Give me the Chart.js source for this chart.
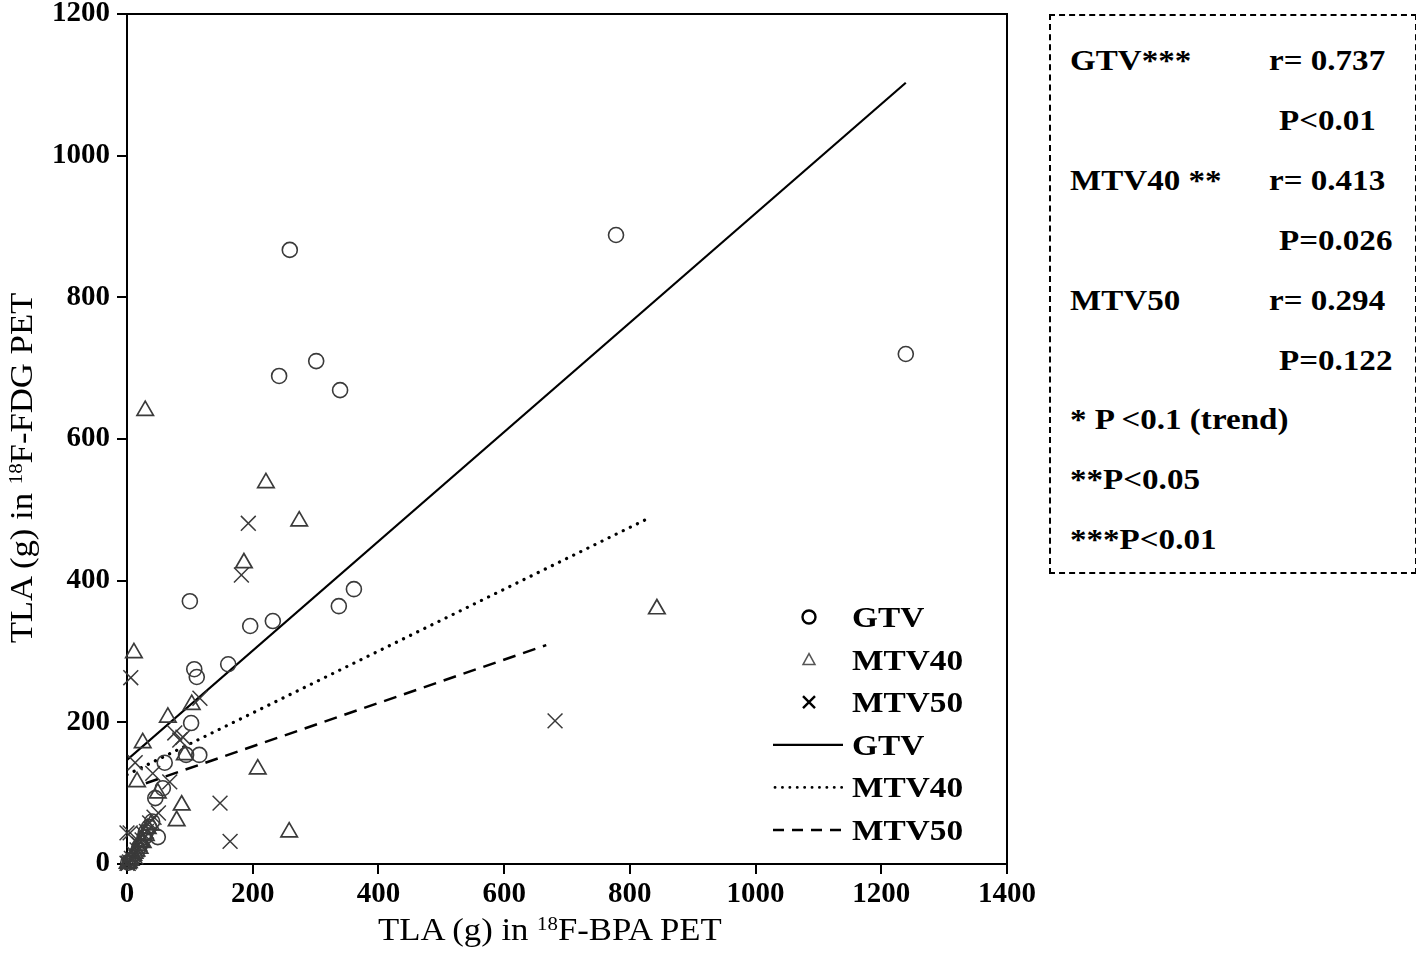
<!DOCTYPE html>
<html><head><meta charset="utf-8">
<script src="https://cdn.jsdelivr.net/npm/chart.js@4"></script>
<style>
body{margin:0;width:1416px;height:954px;background:#fff;position:relative;overflow:hidden;font-family:"Liberation Serif","Times New Roman",serif;color:#000}
#cv{position:absolute;left:0;top:0}
.t{position:absolute;white-space:nowrap;line-height:30px;height:30px;transform-origin:left center}
.xt{font-size:31px}
sup{font-size:0.6em;vertical-align:0;position:relative;top:-0.55em}
#stats{position:absolute;left:1049px;top:14px;width:364px;height:556px;border:2px dashed #000;box-sizing:content-box}
#stats .t{font-size:29px;font-weight:bold;transform:scaleX(1.14)}
.lg{font-size:29px;font-weight:bold;transform:scaleX(1.15)}
</style></head>
<body>
<canvas id="cv" width="1040" height="954"></canvas>
<div class="t xt" id="xtitle" style="left:378px;top:915px;transform:scaleX(1.12)">TLA (g) in <sup>18</sup>F-BPA PET</div>
<div class="t xt" id="ytitle" style="left:22px;top:468px;transform-origin:center;transform:translate(-50%,-50%) rotate(-90deg) scaleX(1.12)">TLA (g) in <sup>18</sup>F-FDG PET</div>

<svg style="position:absolute;left:0;top:0" width="1040" height="954" id="lgsvg"></svg>
<div id="legendText"></div>

<div id="stats"></div>

<script>
// ---- data ----
const xTicks = [0, 200, 400, 600, 800, 1000, 1200, 1400];
const yTicks = [0, 200, 400, 600, 800, 1000, 1200];
const seriesNames = ['GTV', 'MTV40', 'MTV50'];

const gtvX = [778, 1239, 259, 301, 242, 339, 361, 337, 100, 196, 232, 161, 107, 111, 102, 94, 115, 60, 57, 45, 49, 2, 5, 8, 20, 28, 35, 40, 30];
const gtvY = [888, 720, 867, 710, 689, 669, 388, 364, 371, 336, 343, 282, 275, 264, 199, 154, 154, 143, 107, 93, 38, 2, 4, 6, 25, 38, 52, 60, 45];

const mtv40X = [843, 29, 221, 274, 186, 11, 208, 258, 65, 25, 16, 87, 79, 92, 103, 49, 1, 3, 6, 10, 15, 18, 22, 25, 30, 33, 38, 12, 20];
const mtv40Y = [360, 640, 538, 484, 425, 298, 134, 45, 207, 171, 116, 83, 61, 154, 225, 100, 1, 2, 5, 12, 18, 26, 32, 30, 40, 50, 55, 15, 22];

const mtv50X = [681, 193, 182, 6, 148, 164, 116, 89, 41, 68, 5, 76, 13, 84, 0, 0, 2, 4, 7, 12, 16, 19, 24, 27, 31, 36, 43, 50, 14];
const mtv50Y = [202, 481, 408, 263, 86, 32, 234, 179, 128, 116, 44, 185, 143, 175, 44, 1, 1, 3, 8, 14, 20, 28, 34, 42, 46, 58, 66, 72, 10];

// regression lines: [x start, x end], [y start, y end]
const fitGtvX = [0, 1239],  fitGtvY = [147, 1103];
const fitM40X = [0, 834],   fitM40Y = [126, 490];
const fitM50X = [30, 667],  fitM50Y = [114, 309];

const statsLines = [
  ['GTV***', 'r= 0.737'],
  ['', 'P<0.01'],
  ['MTV40 **', 'r= 0.413'],
  ['', 'P=0.026'],
  ['MTV50', 'r= 0.294'],
  ['', 'P=0.122'],
  ['* P <0.1 (trend)', ''],
  ['**P<0.05', ''],
  ['***P<0.01', '']
];

// ---- build ----
const pts = (xs, ys) => xs.map((x, i) => ({x, y: ys[i]}));
const markColor = '#3a3a3a';

const frame = {
  id: 'frame',
  afterDraw(c) {
    const {ctx, chartArea: a} = c;
    ctx.save();
    ctx.strokeStyle = '#000'; ctx.lineWidth = 2;
    ctx.beginPath();
    ctx.moveTo(a.left, a.top); ctx.lineTo(a.right, a.top); ctx.lineTo(a.right, a.bottom);
    ctx.stroke();
    ctx.restore();
  }
};

const tickFont = {family: '"Liberation Serif", "Times New Roman", serif', size: 29, weight: 'bold'};

new Chart(document.getElementById('cv'), {
  type: 'scatter',
  data: {
    datasets: [
      {label: seriesNames[0], data: pts(gtvX, gtvY), pointStyle: 'circle', pointRadius: 7.5, borderColor: markColor, backgroundColor: 'rgba(0,0,0,0)', borderWidth: 1.6, clip: false},
      {label: seriesNames[1], data: pts(mtv40X, mtv40Y), pointStyle: 'triangle', pointRadius: 9.5, borderColor: markColor, backgroundColor: 'rgba(0,0,0,0)', borderWidth: 1.7, clip: false},
      {label: seriesNames[2], data: pts(mtv50X, mtv50Y), pointStyle: 'crossRot', pointRadius: 10.5, borderColor: markColor, backgroundColor: 'rgba(0,0,0,0)', borderWidth: 1.5, clip: false},
      {type: 'line', label: seriesNames[0] + ' fit', data: pts(fitGtvX, fitGtvY), borderColor: '#000', borderWidth: 2.2, pointRadius: 0, fill: false},
      {type: 'line', label: seriesNames[1] + ' fit', data: pts(fitM40X, fitM40Y), borderColor: '#000', borderWidth: 3.2, borderDash: [0.1, 7.8], borderCapStyle: 'round', pointRadius: 0, fill: false},
      {type: 'line', label: seriesNames[2] + ' fit', data: pts(fitM50X, fitM50Y), borderColor: '#000', borderWidth: 2.5, borderDash: [13, 8], pointRadius: 0, fill: false}
    ]
  },
  options: {
    responsive: false,
    animation: false,
    devicePixelRatio: 1,
    layout: {padding: {top: 14, right: 33, left: 0, bottom: 0}},
    plugins: {legend: {display: false}, tooltip: {enabled: false}},
    scales: {
      x: {
        type: 'linear', min: xTicks[0], max: xTicks[xTicks.length - 1],
        afterBuildTicks: s => { s.ticks = xTicks.map(v => ({value: v})); },
        afterFit: s => { s.height = 90; s.paddingLeft = 0; s.paddingRight = 0; },
        ticks: {font: tickFont, color: '#000', padding: 3, maxRotation: 0, callback: v => String(v)},
        grid: {display: true, drawOnChartArea: false, drawTicks: true, tickLength: 10, color: '#000', lineWidth: 2},
        border: {display: true, color: '#000', width: 2}
      },
      y: {
        type: 'linear', min: yTicks[0], max: yTicks[yTicks.length - 1],
        afterBuildTicks: s => { s.ticks = yTicks.map(v => ({value: v})); },
        afterFit: s => { s.width = 127; s.paddingTop = 0; s.paddingBottom = 0; },
        ticks: {font: tickFont, color: '#000', padding: 7, callback: v => String(v)},
        grid: {display: true, drawOnChartArea: false, drawTicks: true, tickLength: 10, color: '#000', lineWidth: 2},
        border: {display: true, color: '#000', width: 2}
      }
    }
  },
  plugins: [frame]
});

// ---- in-plot legend ----
const legendRows = [
  {kind: 'circle', text: seriesNames[0]},
  {kind: 'triangle', text: seriesNames[1]},
  {kind: 'cross', text: seriesNames[2]},
  {kind: 'solid', text: seriesNames[0]},
  {kind: 'dotted', text: seriesNames[1]},
  {kind: 'dashed', text: seriesNames[2]}
];
const svg = document.getElementById('lgsvg');
const lt = document.getElementById('legendText');
let svgHtml = '';
legendRows.forEach((r, i) => {
  const cy = 617 + i * 42.6, cx = 809;
  if (r.kind === 'circle') svgHtml += `<circle cx="${cx}" cy="${cy}" r="6.5" fill="none" stroke="#000" stroke-width="2.4"/>`;
  if (r.kind === 'triangle') svgHtml += `<polygon points="${cx},${cy-6} ${cx-6},${cy+5} ${cx+6},${cy+5}" fill="none" stroke="#555" stroke-width="1.5"/>`;
  if (r.kind === 'cross') svgHtml += `<path d="M${cx-6},${cy-6}L${cx+6},${cy+6}M${cx+6},${cy-6}L${cx-6},${cy+6}" stroke="#000" stroke-width="2.4"/>`;
  if (r.kind === 'solid') svgHtml += `<line x1="773" y1="${cy}" x2="843" y2="${cy}" stroke="#000" stroke-width="2.2"/>`;
  if (r.kind === 'dotted') svgHtml += `<line x1="775" y1="${cy}" x2="843" y2="${cy}" stroke="#000" stroke-width="2.8" stroke-dasharray="0.1 7.3" stroke-linecap="round"/>`;
  if (r.kind === 'dashed') svgHtml += `<line x1="773" y1="${cy}" x2="843" y2="${cy}" stroke="#000" stroke-width="2.4" stroke-dasharray="11 8"/>`;
  const d = document.createElement('div');
  d.className = 't lg';
  d.style.left = '852px';
  d.style.top = (cy - 15) + 'px';
  d.textContent = r.text;
  lt.appendChild(d);
});
svg.innerHTML = svgHtml;

// ---- stats box ----
const st = document.getElementById('stats');
statsLines.forEach((l, i) => {
  const cy = 60 + i * 59.9 - 14 - 2;
  if (l[0]) {
    const d = document.createElement('div'); d.className = 't'; d.style.left = (1070 - 1051) + 'px'; d.style.top = (cy - 15) + 'px'; d.textContent = l[0]; st.appendChild(d);
  }
  if (l[1]) {
    const d = document.createElement('div'); d.className = 't';
    d.style.left = ((l[1].startsWith('r') ? 1269 : 1279) - 1051) + 'px';
    d.style.top = (cy - 15) + 'px'; d.textContent = l[1]; st.appendChild(d);
  }
});
</script>
</body></html>
